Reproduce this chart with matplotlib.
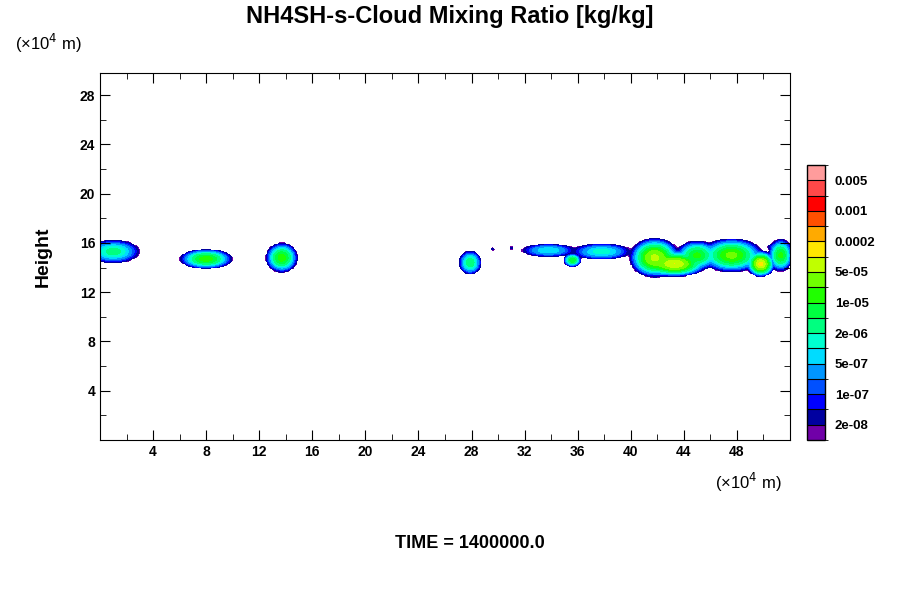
import numpy as np
import matplotlib
matplotlib.use("Agg")
import matplotlib.pyplot as plt
from matplotlib.colors import ListedColormap, BoundaryNorm
import matplotlib.colorbar as mcb

plt.rcParams['font.family'] = ['Liberation Sans', 'DejaVu Sans']

# cloud blobs (x center [1e4 m], z center [1e4 m], x half-width, z half-width, peak mixing ratio)
blob_x  = [1.0, 3.7, 8.0, 13.7, 27.9, 29.6, 31.0, 33.8, 35.6, 37.8, 41.8, 43.3, 45.0, 47.6, 49.8, 51.3, 50.6]
blob_z  = [15.3, 16.0, 14.7, 14.8, 14.4, 15.5, 15.6, 15.4, 14.6, 15.3, 14.8, 14.3, 15.0, 15.0, 14.3, 15.0, 15.7]
blob_wx = [1.7, 0.15, 1.5, 0.9, 0.7, 0.3, 0.3, 1.9, 0.5, 2.0, 1.3, 1.6, 1.2, 1.7, 0.7, 0.7, 0.5]
blob_wz = [0.8, 0.15, 0.6, 0.9, 0.8, 0.2, 0.25, 0.5, 0.4, 0.6, 1.1, 0.7, 0.9, 1.0, 0.7, 1.0, 0.3]
blob_pk = [3e-6, 2e-8, 1.5e-5, 1.5e-5, 4e-6, 3e-8, 3e-8, 1e-6, 1e-5, 1.5e-6, 6e-5, 1e-4, 1.2e-5, 2.5e-5, 1.2e-4, 1.2e-5, 5e-8]

levels = [1e-8, 2e-8, 5e-8, 1e-7, 2e-7, 5e-7, 1e-6, 2e-6, 5e-6, 1e-5, 2e-5, 5e-5,
          1e-4, 2e-4, 5e-4, 1e-3, 2e-3, 5e-3, 1e-2]
colors = ['#7000a8', '#0000a0', '#0000ff', '#0050ff', '#0096ff', '#00dcff', '#00ffd0',
          '#00ff80', '#00ff40', '#20ff00', '#70ff00', '#c0ff00', '#ffe600', '#ffaa00',
          '#ff5000', '#ff0000', '#ff4848', '#ff9c9c']
cb_ticks = [2e-8, 1e-7, 5e-7, 2e-6, 1e-5, 5e-5, 2e-4, 1e-3, 5e-3]
cb_labels = ['2e-08', '1e-07', '5e-07', '2e-06', '1e-05', '5e-05', '0.0002', '0.001', '0.005']

x = np.linspace(0, 52, 521)
z = np.linspace(0, 30, 301)
X, Z = np.meshgrid(x, z)
F = np.zeros_like(X)
for bx, bz, wx, wz, pk in zip(blob_x, blob_z, blob_wx, blob_wz, blob_pk):
    r2 = ((X - bx) / wx) ** 2 + ((Z - bz) / wz) ** 2
    F += pk * np.exp(-4.0 * r2)

fig = plt.figure(figsize=(9, 6), dpi=100)
ax = fig.add_axes([100/900, 1-440/600, 690/900, 367/600])
cmap = ListedColormap(colors)
norm = BoundaryNorm(levels, cmap.N)
Fm = np.ma.masked_less(F, 1e-8)
ax.contourf(X, Z, Fm, levels=levels, cmap=cmap, norm=norm)
ax.set_xlim(0, 52)
ax.set_ylim(0, 29.8)
ax.set_xticks(range(4, 52, 4))
ax.set_yticks(range(4, 30, 4))
ax.set_xticks(range(2, 52, 2), minor=True)
ax.set_yticks(range(2, 30, 2), minor=True)
ax.tick_params(which='both', direction='in', top=True, right=True, labelsize=10)
ax.tick_params(which='major', length=7)
ax.tick_params(which='minor', length=4)
for lab in ax.get_xticklabels() + ax.get_yticklabels():
    lab.set_fontweight('bold')
ax.set_ylabel('Height', fontsize=14, fontweight='bold', labelpad=20)

fig.text(0.5, 1-17/600, 'NH4SH-s-Cloud Mixing Ratio [kg/kg]', ha='center', va='center',
         fontsize=17, fontweight='bold')
fig.text(15/900, 1-43/600, '(×10$^4$ m)', ha='left', va='center', fontsize=12)
fig.text(715/900, 1-482/600, '(×10$^4$ m)', ha='left', va='center', fontsize=12)
fig.text(0.522, 1-543/600, 'TIME = 1400000.0', ha='center', va='center', fontsize=13, fontweight='bold')

cax = fig.add_axes([807/900, 1-440/600, 18/900, 275/600])
cb = mcb.ColorbarBase(cax, cmap=cmap, norm=norm, boundaries=levels, spacing='uniform',
                      drawedges=True, ticks=cb_ticks)
cb.set_ticklabels(cb_labels)
cb.outline.set_linewidth(1)
cb.dividers.set_linewidth(0.8)
cax.tick_params(length=0, labelsize=9.5, pad=7)
for lab in cax.get_yticklabels():
    lab.set_fontweight('bold')

fig.savefig('out.png', dpi=100)
